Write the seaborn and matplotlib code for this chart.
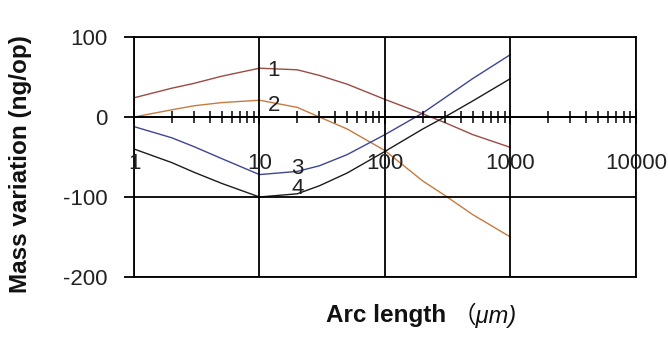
import matplotlib
matplotlib.use("Agg")
import matplotlib.pyplot as plt
import seaborn as sns
import pandas as pd
from matplotlib.ticker import LogLocator, FixedLocator, NullFormatter

# Arc length (um) sample positions
arc_length = [1, 2, 3, 5, 10, 20, 30, 50, 100, 200, 300, 500, 1000]

# Mass variation (ng/op) for the four conditions
mass_1 = [24, 36, 42, 51, 61, 59, 52, 41, 22, 4, -7, -22, -38]
mass_2 = [0, 9, 14, 18, 21, 12, 0, -15, -42, -80, -98, -122, -150]
mass_3 = [-12, -26, -37, -52, -72, -68, -61, -47, -22, 5, 24, 48, 78]
mass_4 = [-40, -57, -69, -83, -100, -96, -86, -70, -43, -15, 0, 20, 48]

series_names = ["1", "2", "3", "4"]
series_values = [mass_1, mass_2, mass_3, mass_4]
series_colors = ["#9a4b45", "#c77a3e", "#3e4592", "#1c1c1c"]

x_tick_values = [1, 10, 100, 1000, 10000]
x_tick_labels = ["1", "10", "100", "1000", "10000"]
y_tick_values = [-200, -100, 0, 100]
y_tick_labels = ["-200", "-100", "0", "100"]

# curve-number annotations: (label, arc length, mass)
curve_tags = [("1", 13, 58), ("2", 13, 14), ("3", 20, -64), ("4", 20, -89)]

frames = []
for name, vals in zip(series_names, series_values):
    frames.append(pd.DataFrame({"arc": arc_length, "mass": vals, "curve": name}))
df = pd.concat(frames, ignore_index=True)

sns.set_style("white")
plt.rcParams["font.family"] = ["Liberation Sans", "Noto Sans CJK SC", "DejaVu Sans"]

fig = plt.figure(figsize=(6.68, 3.41), dpi=100)
ax = fig.add_axes([0.2006, 0.1877, 0.7514, 0.7038])

sns.lineplot(data=df, x="arc", y="mass", hue="curve",
             palette=dict(zip(series_names, series_colors)),
             linewidth=1.0, legend=False, ax=ax, sort=False)

ax.set_xscale("log")
ax.set_xlim(1, 10000)
ax.set_ylim(-200, 100)

ax.xaxis.set_major_locator(FixedLocator(x_tick_values))
ax.set_xticklabels(x_tick_labels)
ax.xaxis.set_minor_locator(LogLocator(base=10, subs=range(2, 10)))
ax.xaxis.set_minor_formatter(NullFormatter())
ax.set_yticks(y_tick_values)
ax.set_yticklabels(y_tick_labels)

ax.grid(True, which="major", color="black", linewidth=1.3)
ax.grid(False, which="minor")
ax.set_axisbelow(False)
for side in ["top", "left", "right", "bottom"]:
    ax.spines[side].set_color("black")
    ax.spines[side].set_linewidth(1.3)
    ax.spines[side].set_visible(True)
ax.spines["bottom"].set_position(("data", 0))
ax.axhline(-200, color="black", linewidth=1.3, clip_on=False)

ax.tick_params(axis="x", which="both", bottom=True, top=False)
ax.tick_params(axis="y", which="both", left=True, right=False)
ax.tick_params(axis="x", which="major", direction="inout", length=10, width=1.3,
               labelsize=16, pad=21, colors="black")
ax.tick_params(axis="x", which="minor", direction="inout", length=9, width=1.1,
               colors="black")
ax.tick_params(axis="y", which="major", direction="out", length=7, width=1.3,
               labelsize=16, pad=12, colors="black")
for lab in ax.get_xticklabels() + ax.get_yticklabels():
    lab.set_color("#222222")

ax.set_xlabel("")
ax.set_ylabel("")

for tag, xv, yv in curve_tags:
    ax.text(xv, yv, tag, fontsize=16, color="#222222", ha="center", va="center")

fig.text(0.030, 0.52, "Mass variation (ng/op)", rotation=90, fontsize=17.5,
         fontweight="bold", ha="center", va="center", color="#111111")
fig.text(0.578, 0.075, "Arc length", fontsize=17.5, fontweight="bold",
         ha="center", va="center", color="#111111")
fig.text(0.725, 0.075, "（μm)", fontsize=17, style="italic",
         ha="center", va="center", color="#111111")

fig.savefig("out.png", dpi=100)
